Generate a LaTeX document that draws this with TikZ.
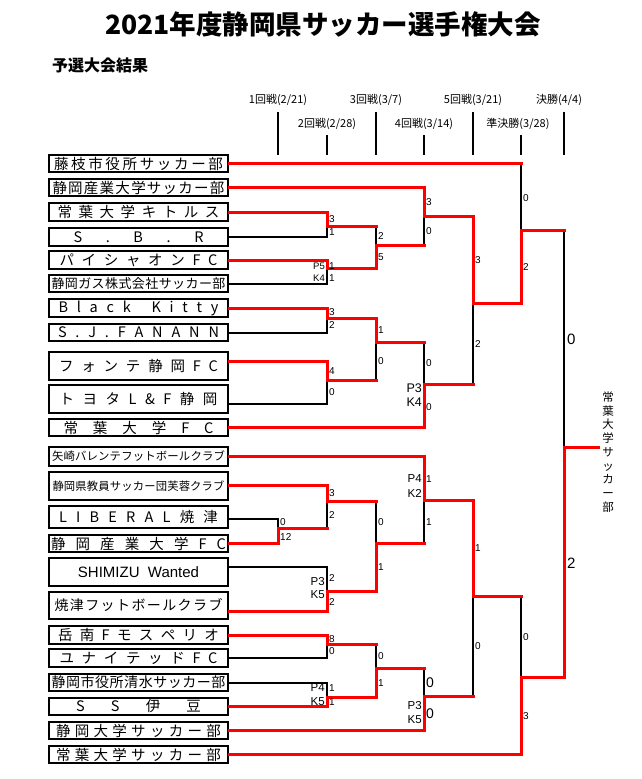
\documentclass[tikz,border=0pt]{standalone}
\usepackage{fontspec}
\setmainfont{Noto Sans CJK JP}
\newfontfamily\numfont{Liberation Sans}
\usetikzlibrary{calc}

% spread the characters of a name over a given width
\makeatletter
\newcommand\spreadtext[2][160pt]{\makebox[#1][s]{\spr@a#2\relax}}
\def\spr@a#1{#1\spr@b}
\def\spr@b#1{\ifx\relax#1\else\hfil#1\expandafter\spr@b\fi}
\makeatother

\tikzset{
  team/.style={draw, line width=2.2pt, minimum width=178.8pt, minimum height=16.8pt, inner sep=0pt, font=\fontsize{14.5}{16}\selectfont},
  win/.style={red, line width=3pt, line cap=rect},
  lose/.style={black, line width=2pt, line cap=rect},
  rtick/.style={line width=1.2pt},
  hdr/.style={inner sep=0pt, font=\fontsize{11}{12}\selectfont},
  sc/.style={anchor=west, inner sep=0pt, font=\numfont\fontsize{10}{10}\selectfont},
  pk/.style={anchor=east, inner sep=0pt, font=\numfont\fontsize{11.5}{12}\selectfont},
  big/.style={font=\numfont\fontsize{14}{14}\selectfont},
}

\begin{document}
\begin{tikzpicture}[x=1pt, y=-1pt]
    \useasboundingbox (0,0) rectangle (642,779);

    \node[font=\bfseries\fontsize{26.5}{30}\selectfont] (title) at (323,24) {2021年度静岡県サッカー選手権大会};
    \node[font=\bfseries\fontsize{16}{18}\selectfont] (sub) at (100,65) {予選大会結果};

    % round headers
    \node[hdr] (h1) at (278,99.5) {1回戦(2/21)};
    \node[hdr] (h2) at (327,123.5) {2回戦(2/28)};
    \node[hdr] (h3) at (376,99.5) {3回戦(3/7)};
    \node[hdr] (h4) at (424,123.5) {4回戦(3/14)};
    \node[hdr] (h5) at (473,99.5) {5回戦(3/21)};
    \node[hdr] (h6) at (518,123.5) {準決勝(3/28)};
    \node[hdr] (h7) at (559,99.5) {決勝(4/4)};

    % teams
    \node[team] (t1) at (138.5,163.5) {\spreadtext[169pt]{藤枝市役所サッカー部}};
    \node[team] (t2) at (138.5,187.5) {\spreadtext[172pt]{静岡産業大学サッカー部}};
    \node[team, minimum height=17.8pt] (t3) at (138.5,212) {\spreadtext[162pt]{常葉大学キトルス}};
    \node[team, minimum height=17.8pt] (t4) at (138.5,237) {\spreadtext[130pt]{S.B.R}};
    \node[team, minimum height=17.8pt] (t5) at (138.5,260) {\spreadtext[158pt]{パイシャオンFC}};
    \node[team, font=\fontsize{13}{15}\selectfont] (t6) at (138.5,283.5) {\spreadtext[174pt]{静岡ガス株式会社サッカー部}};
    \node[team, minimum height=17.8pt] (t7) at (138.5,308) {\spreadtext[160pt]{Black~Kitty}};
    \node[team] (t8) at (138.5,332.5) {\spreadtext[161pt]{S.J.FANANN}};
    \node[team, minimum height=27.8pt] (t9) at (138.5,366) {\spreadtext[159pt]{フォンテ静岡FC}};
    \node[team, minimum height=27.8pt] (t10) at (138.5,399) {\spreadtext[158pt]{トヨタL\&F静岡}};
    \node[team] (t11) at (138.5,427.5) {\spreadtext[150pt]{常葉大学FC}};
    \node[team, minimum height=18.8pt, font=\fontsize{11.4}{13}\selectfont] (t12) at (138.5,456.5) {\spreadtext[173pt]{矢崎バレンテフットボールクラブ}};
    \node[team, minimum height=27.8pt, font=\fontsize{11.3}{14}\selectfont] (t13) at (138.5,486) {\spreadtext[172pt]{静岡県教員サッカー団芙蓉クラブ}};
    \node[team, minimum height=21.8pt] (t14) at (138.5,517) {\spreadtext[159pt]{LIBERAL焼津}};
    \node[team] (t15) at (138.5,543.5) {\spreadtext[175pt]{静岡産業大学FC}};
    \node[team, minimum height=27.8pt, font=\numfont\fontsize{15}{16}\selectfont] (t16) at (138.5,572) {SHIMIZU\ \ Wanted};
    \node[team, minimum height=26.8pt, font=\fontsize{14}{16}\selectfont] (t17) at (138.5,605.5) {\spreadtext[168pt]{焼津フットボールクラブ}};
    \node[team, minimum height=17.8pt] (t18) at (138.5,635) {\spreadtext[161pt]{岳南Fモスペリオ}};
    \node[team, minimum height=17.8pt] (t19) at (138.5,658) {\spreadtext[158pt]{ユナイテッドFC}};
    \node[team, font=\fontsize{14}{16}\selectfont] (t20) at (138.5,682.5) {\spreadtext[174pt]{静岡市役所清水サッカー部}};
    \node[team] (t21) at (138.5,706.5) {\spreadtext[125pt]{SS伊豆}};
    \node[team] (t22) at (138.5,730.5) {\spreadtext[165pt]{静岡大学サッカー部}};
    \node[team] (t23) at (138.5,754.5) {\spreadtext[165pt]{常葉大学サッカー部}};

    % match points
    \coordinate (r1) at (278,528);
    \coordinate (r2a) at (327,226);
    \coordinate (r2b) at (327,268);
    \coordinate (r2c) at (327,318);
    \coordinate (r2d) at (327,380);
    \coordinate (r2e) at (327,501);
    \coordinate (r2f) at (327,591);
    \coordinate (r2g) at (327,644);
    \coordinate (r2h) at (327,697);
    \coordinate (r3a) at (376,245);
    \coordinate (r3b) at (376,342);
    \coordinate (r3c) at (376,543);
    \coordinate (r3d) at (376,668);
    \coordinate (r4a) at (424,216);
    \coordinate (r4b) at (424,384);
    \coordinate (r4c) at (424,500);
    \coordinate (r4d) at (424,696);
    \coordinate (r5a) at (473,303);
    \coordinate (r5b) at (473,596);
    \coordinate (sfa) at (521,230);
    \coordinate (sfb) at (521,677);
    \coordinate (fin) at (564,447);
    \coordinate (champ) at (598,447);

    % header ticks
    \draw[rtick] (r1 |- 0,112) -- (r1 |- 0,155);
    \draw[rtick] (r2a |- 0,135) -- (r2a |- 0,155);
    \draw[rtick] (r3a |- 0,112) -- (r3a |- 0,155);
    \draw[rtick] (r4a |- 0,135) -- (r4a |- 0,155);
    \draw[rtick] (r5a |- 0,112) -- (r5a |- 0,155);
    \draw[rtick] (sfa |- 0,135) -- (sfa |- 0,155);
    \draw[rtick] (fin |- 0,112) -- (fin |- 0,155);

    % losers
    \draw[lose] ([yshift=-2pt]t14.east) -| (r1);
    \draw[lose] (t4.east) -| (r2a);
    \draw[lose] (t6.east) -| (r2b);
    \draw[lose] (t8.east) -| (r2c);
    \draw[lose] ([yshift=-5pt]t10.east) -| (r2d);
    \draw[lose] (r1 -| r2e) -- (r2e);
    \draw[lose] ([yshift=5pt]t16.east) -| (r2f);
    \draw[lose] (t19.east) -| (r2g);
    \draw[lose] (t20.east) -| (r2h);
    \draw[lose] (r2a -| r3a) -- (r3a);
    \draw[lose] (r2d -| r3b) -- (r3b);
    \draw[lose] (r2e -| r3c) -- (r3c);
    \draw[lose] (r2g -| r3d) -- (r3d);
    \draw[lose] (r3a -| r4a) -- (r4a);
    \draw[lose] (r3b -| r4b) -- (r4b);
    \draw[lose] (r3c -| r4c) -- (r4c);
    \draw[lose] (r3d -| r4d) -- (r4d);
    \draw[lose] (r4b -| r5a) -- (r5a);
    \draw[lose] (r4d -| r5b) -- (r5b);
    \draw[lose] (t1.east -| sfa) -- (sfa);
    \draw[lose] (r5b -| sfb) -- (sfb);
    \draw[lose] (sfa -| fin) -- (fin);

    % winners
    \draw[win] (t15.east) -| (r1);
    \draw[win] (r1) -- (r1 -| r2e);
    \draw[win] (t3.east) -| (r2a);
    \draw[win] (t5.east) -| (r2b);
    \draw[win] (t7.east) -| (r2c);
    \draw[win] ([yshift=5pt]t9.east) -| (r2d);
    \draw[win] ([yshift=1pt]t13.east) -| (r2e);
    \draw[win] ([yshift=-5.5pt]t17.east) -| (r2f);
    \draw[win] (t18.east) -| (r2g);
    \draw[win] (t21.east) -| (r2h);

    \draw[win] (r2a) -- (r2a -| r3a);
    \draw[win] (r2b) -| (r3a);
    \draw[win] (r2c) -| (r3b);
    \draw[win] (r2d) -- (r2d -| r3b);
    \draw[win] (r2e) -- (r2e -| r3c);
    \draw[win] (r2f) -| (r3c);
    \draw[win] (r2g) -- (r2g -| r3d);
    \draw[win] (r2h) -| (r3d);

    \draw[win] (t2.east) -| (r4a);
    \draw[win] (r3a) -- (r3a -| r4a);
    \draw[win] (r3b) -- (r3b -| r4b);
    \draw[win] (t11.east) -| (r4b);
    \draw[win] (t12.east) -| (r4c);
    \draw[win] (r3c) -- (r3c -| r4c);
    \draw[win] (r3d) -- (r3d -| r4d);
    \draw[win] (t22.east) -| (r4d);

    \draw[win] (r4a) -| (r5a);
    \draw[win] (r4b) -- (r4b -| r5a);
    \draw[win] (r4c) -| (r5b);
    \draw[win] (r4d) -- (r4d -| r5b);

    \draw[win] (t1.east) -- (t1.east -| sfa);
    \draw[win] (r5a) -| (sfa);
    \draw[win] (r5b) -- (r5b -| sfb);
    \draw[win] (t23.east) -| (sfb);

    \draw[win] (sfa) -- (sfa -| fin);
    \draw[win] (sfb) -| (fin);
    \draw[win] (fin) -- (champ);

    % scores
    \node[sc] (s11) at (280,522) {0};
    \node[sc] (s12) at (280,537) {12};

    \node[sc] (s2a1) at (329,219) {3};
    \node[sc] (s2a2) at (329,232) {1};
    \node[pk, font=\numfont\fontsize{9.5}{10}\selectfont] (p2b1) at (325,266) {P5};
    \node[sc] (s2b1) at (329,266) {1};
    \node[pk, font=\numfont\fontsize{9.5}{10}\selectfont] (p2b2) at (325,278) {K4};
    \node[sc] (s2b2) at (329,278) {1};
    \node[sc] (s2c1) at (329,312) {3};
    \node[sc] (s2c2) at (329,325) {2};
    \node[sc] (s2d1) at (329,371) {4};
    \node[sc] (s2d2) at (329,392) {0};
    \node[sc] (s2e1) at (329,493) {3};
    \node[sc] (s2e2) at (329,515) {2};
    \node[pk] (p2f1) at (325,582) {P3};
    \node[sc] (s2f1) at (329,578) {2};
    \node[pk] (p2f2) at (325,595) {K5};
    \node[sc] (s2f2) at (329,602) {2};
    \node[sc] (s2g1) at (329,639) {8};
    \node[sc] (s2g2) at (329,651) {0};
    \node[pk] (p2h1) at (325,688) {P4};
    \node[sc] (s2h1) at (329,688) {1};
    \node[pk] (p2h2) at (325,702) {K5};
    \node[sc] (s2h2) at (329,702) {1};

    \node[sc] (s3a1) at (378,236) {2};
    \node[sc] (s3a2) at (378,257) {5};
    \node[sc] (s3b1) at (378,330) {1};
    \node[sc] (s3b2) at (378,361) {0};
    \node[sc] (s3c1) at (378,522) {0};
    \node[sc] (s3c2) at (378,567) {1};
    \node[sc] (s3d1) at (378,656) {0};
    \node[sc] (s3d2) at (378,683) {1};

    \node[sc] (s4a1) at (426,202) {3};
    \node[sc] (s4a2) at (426,231) {0};
    \node[sc] (s4b1) at (426,363) {0};
    \node[sc] (s4b2) at (426,407) {0};
    \node[pk, font=\numfont\fontsize{12.5}{13}\selectfont] (p4b1) at (422,388) {P3};
    \node[pk, font=\numfont\fontsize{12.5}{13}\selectfont] (p4b2) at (422,402) {K4};
    \node[pk] (p4c1) at (422,479) {P4};
    \node[sc] (s4c1) at (426,479) {1};
    \node[pk] (p4c2) at (422,493) {K2};
    \node[sc] (s4c2) at (426,522) {1};
    \node[sc, big] (s4d1) at (426,683) {0};
    \node[sc, big] (s4d2) at (426,714) {0};
    \node[pk] (p4d1) at (422,706) {P3};
    \node[pk] (p4d2) at (422,720) {K5};

    \node[sc] (s5a1) at (475,260) {3};
    \node[sc] (s5a2) at (475,344) {2};
    \node[sc] (s5b1) at (475,548) {1};
    \node[sc] (s5b2) at (475,646) {0};

    \node[sc] (ssa1) at (523,198) {0};
    \node[sc] (ssa2) at (523,267) {2};
    \node[sc] (ssb1) at (523,637) {0};
    \node[sc] (ssb2) at (523,716) {3};

    \node[sc, font=\numfont\fontsize{15}{15}\selectfont] (sf1) at (567,339) {0};
    \node[sc, font=\numfont\fontsize{15}{15}\selectfont] (sf2) at (567,563) {2};

    % champion
    \node[align=center, inner sep=0pt, font=\fontsize{11.5}{13.7}\selectfont] (cname) at (608,452) {常\\葉\\大\\学\\サ\\ッ\\カ\\ー\\部};

\end{tikzpicture}
\end{document}
